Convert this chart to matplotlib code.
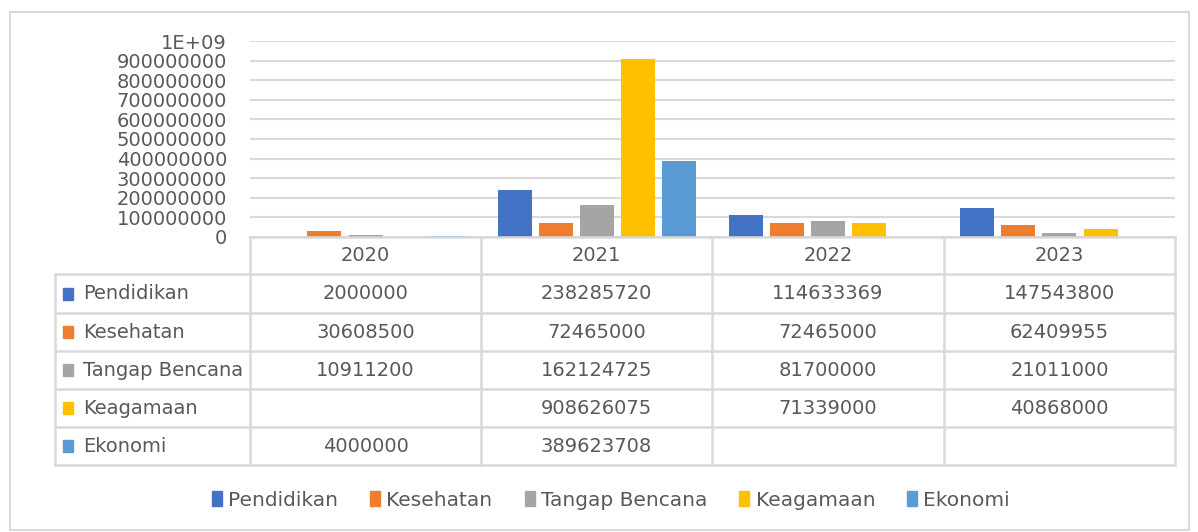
import numpy as np
import matplotlib
matplotlib.use("Agg")
import matplotlib.pyplot as plt
from matplotlib.patches import Rectangle, Patch

# data
years = ["2020", "2021", "2022", "2023"]
series = ["Pendidikan", "Kesehatan", "Tangap Bencana", "Keagamaan", "Ekonomi"]
pendidikan = [2000000, 238285720, 114633369, 147543800]
kesehatan = [30608500, 72465000, 72465000, 62409955]
tangap_bencana = [10911200, 162124725, 81700000, 21011000]
keagamaan = [None, 908626075, 71339000, 40868000]
ekonomi = [4000000, 389623708, None, None]
yticks = list(range(0, 1000000001, 100000000))
ytick_labels = [str(v) for v in yticks[:-1]] + ["1E+09"]

colors = ["#4472C4", "#ED7D31", "#A5A5A5", "#FFC000", "#5B9BD5"]
values = [pendidikan, kesehatan, tangap_bencana, keagamaan, ekonomi]
txt = "#595959"
line_c = "#D9D9D9"

W, H = 1198, 532
fig = plt.figure(figsize=(W / 100, H / 100), dpi=100)

# plot area (pixel layout)
x0, x1, ytop, ybot = 250, 1175, 41, 237
ax = fig.add_axes([x0 / W, 1 - ybot / H, (x1 - x0) / W, (ybot - ytop) / H])

n = len(series)
step = 0.178
width = 0.147
x = np.arange(len(years))
for i, (name, vals) in enumerate(zip(series, values)):
    v = np.array([np.nan if a is None else a for a in vals], dtype=float)
    ax.bar(x + (i - (n - 1) / 2) * step, v, width, color=colors[i], zorder=3)

ax.set_xlim(-0.5, len(years) - 0.5)
ax.set_ylim(0, 1000000000)
ax.set_yticks(yticks)
ax.set_yticklabels(ytick_labels, fontsize=14, color=txt)
ax.set_xticks([])
ax.tick_params(axis="y", length=0, pad=16.5)
ax.yaxis.grid(True, color=line_c, lw=1.5, zorder=0)
for s in ax.spines.values():
    s.set_visible(False)

# overlay for data table and border
ov = fig.add_axes([0, 0, 1, 1], zorder=-1)
ov.set_xlim(0, W)
ov.set_ylim(H, 0)
ov.axis("off")
ov2 = fig.add_axes([0, 0, 1, 1])
ov2.set_xlim(0, W)
ov2.set_ylim(H, 0)
ov2.axis("off")
ov2.patch.set_alpha(0)

ov.add_patch(Rectangle((10, 12), 1179, 518, fill=False, ec=line_c, lw=1.5))

col_x = [250, 481, 712, 944, 1175]
row_y = [237, 274, 313, 351, 389, 427, 465]
left = 55
lw = 1.8
ov2.plot([col_x[0], col_x[-1]], [row_y[0]] * 2, color=line_c, lw=lw)
for y in row_y[1:]:
    ov2.plot([left, col_x[-1]], [y, y], color=line_c, lw=lw)
for cx in col_x:
    ov2.plot([cx, cx], [row_y[0], row_y[-1]], color=line_c, lw=lw)
ov2.plot([left, left], [row_y[1], row_y[-1]], color=line_c, lw=lw)

fs = 14
for j, yr in enumerate(years):
    cx = (col_x[j] + col_x[j + 1]) / 2
    ov2.text(cx, (row_y[0] + row_y[1]) / 2, yr, ha="center", va="center", fontsize=fs, color=txt)
for i, (name, vals) in enumerate(zip(series, values)):
    cy = (row_y[i + 1] + row_y[i + 2]) / 2
    ov2.add_patch(Rectangle((63, cy - 6), 10, 12, color=colors[i]))
    ov2.text(83, cy, name, ha="left", va="center", fontsize=fs, color=txt)
    for j, v in enumerate(vals):
        if v is None:
            continue
        cx = (col_x[j] + col_x[j + 1]) / 2
        ov2.text(cx, cy, str(v), ha="center", va="center", fontsize=fs, color=txt)

handles = [Patch(color=c, label=s) for c, s in zip(colors, series)]
fig.legend(handles=handles, loc="center", bbox_to_anchor=(611 / W, 1 - 500 / H), ncol=5,
           frameon=False, fontsize=14.5, labelcolor=txt, handlelength=0.5, handleheight=0.7,
           handletextpad=0.3, columnspacing=1.6)

fig.savefig("out.png", dpi=100)
